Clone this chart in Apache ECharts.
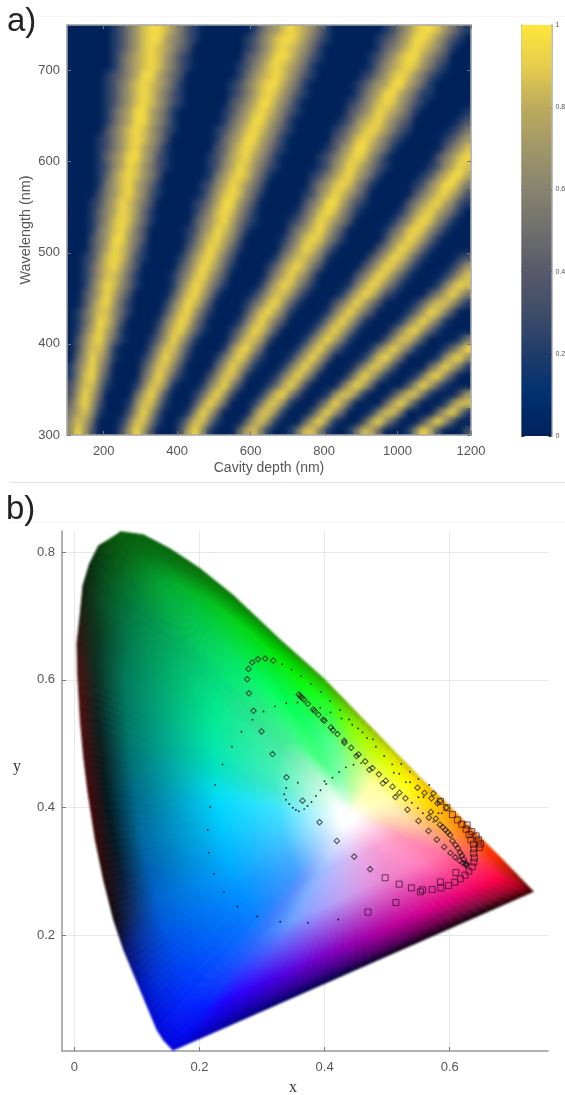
<!DOCTYPE html>
<html><head><meta charset="utf-8">
<style>html,body{margin:0;padding:0;background:#fff}#c{width:565px;height:1095px}</style>
<script src="https://cdn.jsdelivr.net/npm/echarts@6/dist/echarts.min.js"></script>
</head><body><div id="c"></div>
<script>
// ---- panel a) data (each digit is a reflectance level, see digitLevels)
const depthCells=[110,130,150,170,190,210,230,250,270,290,310,330,350,370,390,410,430,450,470,490,510,530,550,570,590,610,630,650,670,690,710,730,750,770,790,810,830,850,870,890,910,930,950,970,990,1010,1030,1050,1070,1090,1110,1130,1150,1170,1190];
const wavelengthCells=[305,315,325,335,345,355,365,375,385,395,405,415,425,435,445,455,465,475,485,495,505,515,525,535,545,555,565,575,585,595,605,615,625,635,645,655,665,675,685,695,705,715,725,735,745];
const digitLevels=[0,.2,.34,.46,.55,.63,.7,.77,.86,.95];
const reflectanceRows=[
"5962000"+"26962000"+"27951000"+"3784100"+"14884100"+"14873000"+"159720002",
"5873000"+"14884100"+"14884100"+"0378510"+"00379510"+"00279520"+"002696200",
"4785100"+"02696200"+"01597300"+"0048851"+"00026963"+"00015884"+"000037951",
"3796200"+"01588410"+"00269730"+"0014885"+"10002597"+"30000379"+"620001588",
"2697300"+"00379620"+"00137962"+"0001489"+"52000158"+"85100025"+"884100026",
"2588410"+"00148851"+"00014795"+"2000137"+"96200003"+"79730000"+"269731000",
"1489520"+"00036973"+"10002588"+"5100014"+"79630000"+"26974100"+"014895200",
"1479630"+"00025885"+"20000369"+"7410001"+"47963000"+"02588520"+"000369741",
"0369741"+"00013797"+"41000147"+"9731000"+"14796300"+"00148963"+"000015895",
"0268851"+"00002588"+"52000015"+"8963000"+"01479631"+"00014797"+"410001369",
"0258963"+"10001369"+"74100002"+"5886200"+"00147974"+"10000258"+"852000014",
"0147974"+"10000258"+"96310001"+"3698520"+"00014797"+"41000025"+"896310000",
"0136985"+"20000147"+"98420000"+"1479742"+"00001479"+"74100001"+"479741000",
"0136885"+"31000025"+"89631000"+"0258974"+"10000147"+"97420000"+"136985200",
"0025896"+"31000014"+"79852000"+"0135896"+"31000024"+"79742000"+"013688631",
"0024797"+"42000002"+"58974100"+"0013688"+"63100001"+"47985210"+"000247974",
"0014798"+"53100001"+"47985310"+"0001479"+"85310000"+"14798531"+"000014798",
"0013688"+"63100001"+"35897420"+"0000257"+"97520000"+"02479853"+"100001368",
"0013689"+"74200000"+"24798631"+"0000136"+"89742000"+"00247986"+"310000136",
"0012589"+"85210000"+"13689742"+"0000014"+"68864100"+"00024798"+"631000012",
"0002479"+"86310000"+"02479863"+"1000002"+"47986310"+"00002479"+"863100000",
"0002469"+"96420000"+"01368975"+"2000001"+"35898531"+"00000257"+"986310000",
"0001468"+"97420000"+"01257986"+"3100000"+"24689742"+"00000135"+"898531000",
"0001358"+"98531000"+"00246897"+"4210000"+"12479864"+"20000013"+"589853100",
"0001357"+"98631000"+"00135898"+"5310000"+"01358985"+"31000001"+"368975310",
"0001257"+"98642000"+"00124799"+"6420000"+"00246997"+"42100000"+"246897521",
"0000246"+"89752100"+"00013689"+"8531000"+"00125798"+"64200000"+"024689752",
"0000146"+"89753100"+"00012579"+"8642000"+"00024689"+"85310000"+"012579974",
"0000136"+"89864200"+"00001468"+"9853100"+"00012468"+"97531000"+"001257997",
"0000125"+"79864210"+"00001257"+"9864210"+"00001257"+"98642100"+"000125798",
"0000135"+"79975210"+"00001247"+"8975310"+"00001246"+"89853100"+"000024689",
"0000124"+"68975310"+"00000236"+"8986421"+"00000125"+"79975310"+"000002468",
"0000124"+"68986420"+"00000135"+"7997531"+"00000023"+"58986421"+"000001246",
"0000024"+"68986421"+"00000124"+"6898642"+"10000012"+"46898642"+"100000124",
"0000013"+"57997531"+"00000013"+"5799753"+"10000001"+"25789753"+"200000012",
"0000013"+"57997531"+"00000012"+"4689864"+"21000000"+"23579875"+"310000001",
"0000012"+"46898642"+"10000002"+"3579975"+"31000000"+"12468986"+"421000000",
"0000012"+"46898642"+"10000001"+"2468986"+"42100000"+"01357997"+"531100000",
"0000012"+"46898753"+"10000001"+"2468997"+"53100000"+"01246799"+"753100000",
"0000012"+"35799753"+"20000000"+"1357898"+"64210000"+"00124689"+"864210000",
"0000001"+"35789864"+"21000000"+"1246898"+"75310000"+"00013578"+"986421000",
"0000001"+"35789864"+"21000000"+"0235799"+"86421000"+"00012468"+"997532000",
"0000001"+"24689875"+"32000000"+"0124689"+"87531000"+"00001346"+"898753100",
"0000001"+"24689975"+"42100000"+"0124689"+"98642100"+"00001235"+"799864210",
"0000001"+"24689986"+"42100000"+"0013568"+"98753100"+"00000124"+"689986421"
];
const depthTicks=[200,400,600,800,1000,1200];
const wavelengthTicks=[300,400,500,600,700];
const colormap=['#00225a','#003070','#1f3c6a','#3f4d69','#58596a','#6f6f6e','#87836e','#a09768','#bcab5c','#e6cd4c','#ffe53a'];

// ---- panel b) data, chromaticity coordinates
const whiteX=0.44, whiteY=0.385;
const gamutX=[.1577,.1427,.132,.1054,.0788,.0628,.0468,.0335,.0213,.0149,.0096,.0053,.0043,.0096,.0139,.0245,.0389,.0575,.0746,.1107,.1534,.2013,.2545,.329,.398,.45,.51,.555,.6006,.64,.68,.7337,.66,.58,.5,.42,.34,.26,.2];
const gamutY=[.0203,.0361,.0526,.115,.1777,.2247,.287,.35,.4277,.48,.537,.61,.657,.704,.748,.782,.81,.821,.832,.827,.805,.774,.732,.663,.603,.5505,.49,.445,.4016,.362,.3234,.2688,.237,.2025,.168,.1335,.0989,.0644,.0385];
const gamutMain=['#2a70ff','#1a74ff','#0a78ff','#0088ff','#0098ff','#00a8ff','#00b8ff','#00c8ff','#00d8ff','#00e0e8','#00e0c0','#00e8a8','#00e89a','#00e890','#00e888','#00e080','#00e078','#00e870','#00e870','#00f068','#00f860','#00ff58','#00ff50','#20ff70','#60ff90','#a0ff80','#ffffa0','#ffffb0','#ffe8b0','#ffc8a0','#ffa0a0','#ff70a0','#ff80c0','#f080c8','#e090e0','#c0a0f0','#a0a0ff','#70a0ff','#4088ff'];
const gamutSemi=['#0018ff','#0024ff','#0030ff','#0048f0','#0058e0','#0060d0','#0060b0','#006aa0','#006a88','#006f78','#00766c','#007a60','#007a58','#007a50','#007a48','#008040','#008c38','#009a30','#00a430','#00b028','#00ba20','#00cc18','#00dc10','#00f400','#20ff20','#90ff00','#e0ff00','#ffff00','#ffd000','#ff9c20','#ff6040','#ff0040','#e80070','#d00090','#b000a0','#8800b8','#6000d8','#3800f0','#2000ff'];
const gamutDark=['#0008f0','#0010f0','#0018f0','#0030d8','#0830a0','#102860','#0a1a30','#051820','#041a20','#0a1a1a','#0a2020','#0c2a20','#0a3020','#083a20','#064a20','#04541c','#045a18','#046414','#046a14','#047014','#047a10','#048a0c','#009a08','#00c000','#20d000','#80e000','#d8e800','#ffe000','#ffb000','#ff7000','#ff3000','#b00020','#801040','#700050','#60006a','#400080','#300098','#1800b8','#0800d8'];
const gamutRim=['#0000d8','#0004d8','#0008d8','#0010c0','#0a1060','#100808','#280a0a','#3a0808','#4a0808','#4a0a0a','#520c0c','#4e0e0e','#3a1010','#1c1c10','#101e10','#082a0c','#083a0a','#065008','#065a08','#066008','#066408','#086c08','#087a06','#108a04','#30a000','#70b000','#b8c000','#e0c000','#f0a000','#f06000','#f03000','#400000','#100008','#100010','#080020','#000040','#000060','#000090','#0000b8'];
const dotPoints=[[.4217,.225],[.3733,.2198],[.3291,.2214],[.2923,.2297],[.2609,.2453],[.2391,.2683],[.2232,.2964],[.2152,.3297],[.2133,.3652],[.2173,.4011],[.2252,.4355],[.2369,.4678],[.2519,.4953],[.2673,.5188],[.2848,.5375],[.3024,.5506],[.3206,.5586],[.3387,.5636],[.3567,.5647],[.393,.5563],[.4094,.5491],[.427,.5397],[.4441,.5297],[.4605,.5178],[.4772,.5069],[.4952,.4808],[.508,.4678],[.5107,.4547],[.5192,.4531],[.5299,.4397],[.5367,.4397],[.5394,.4078],[.549,.3991],[.557,.3913],[.574,.3781],[.582,.3913],[.5873,.3913],[.55,.4163],[.558,.4163],[.3323,.6245],[.3471,.6163],[.3626,.6058],[.3781,.5938],[.3941,.5813],[.4089,.5667],[.4249,.5527],[.4393,.5381],[.4537,.5241],[.468,.5089],[.482,.4953],[.5224,.4683],[.5363,.4563],[.55,.4448],[.5671,.4355],[.3387,.4308],[.3355,.4209],[.3382,.4125],[.3435,.4058],[.3494,.4],[.3542,.3964],[.3589,.3944],[.3674,.3978],[.3727,.4027],[.3791,.4089],[.3861,.4183],[.3935,.4272],[.4026,.437],[.4126,.4469],[.4233,.4558],[.434,.4631],[.4462,.4672],[.4585,.4698],[.3573,.4391],[.3998,.4413]];
const diamondPoints=[[.3179,.6303],[.3051,.6334],[.2934,.6323],[.2843,.6272],[.2784,.6172],[.2764,.6011],[.2791,.5792],[.2864,.5516],[.2992,.5194],[.3168,.4839],[.3391,.4475],[.3647,.4109],[.3919,.3772],[.4196,.348],[.4473,.3234],[.4728,.3038],[.3589,.5772],[.361,.5745],[.3642,.5719],[.3669,.5694],[.3733,.5625],[.3818,.5537],[.3839,.5516],[.3903,.5453],[.3978,.5375],[.3998,.5359],[.4101,.5256],[.4133,.5214],[.4206,.5152],[.4313,.5047],[.4318,.5016],[.4425,.4938],[.451,.4808],[.4542,.4834],[.4649,.4725],[.4717,.4594],[.4765,.462],[.4868,.4522],[.4931,.4381],[.4979,.4422],[.5085,.4328],[.5133,.4167],[.5196,.4234],[.5292,.4147],[.5324,.3969],[.5484,.4313],[.5596,.423],[.5708,.4147],[.574,.4225],[.5804,.4069],[.5847,.4105],[.5947,.4],[.5698,.3933],[.5666,.3844],[.5778,.3828],[.55,.3792],[.566,.3636],[.5794,.35],[.5911,.3386],[.6011,.3292],[.6086,.3225],[.6155,.3172],[.6214,.3131],[.6262,.3109],[.6262,.3105],[.5842,.3734],[.5889,.3694],[.5931,.3652],[.5969,.3616],[.6006,.3573],[.6043,.348],[.6091,.3417],[.613,.3366],[.6166,.3297],[.6193,.325],[.6225,.3194],[.6257,.3131]];
const squarePoints=[[.4968,.2902],[.5192,.2803],[.5388,.2745],[.5564,.2714],[.5719,.2719],[.5858,.2745],[.5979,.2781],[.6081,.2834],[.6171,.2886],[.6246,.2944],[.6305,.3006],[.6358,.3073],[.6385,.3147],[.6395,.3214],[.6379,.3288],[.639,.3355],[.647,.3375],[.649,.3433],[.6379,.3428],[.6337,.3495],[.631,.3578],[.6262,.3663],[.6193,.3741],[.6123,.3808],[.6043,.3891],[.5954,.4],[.5851,.41],[.6458,.3495],[.6422,.3558],[.6353,.3625],[.6278,.373],[.4692,.2366],[.5139,.2516],[.5532,.2683],[.5851,.2839],[.6097,.2984]];
const xTicks=[0,0.2,0.4,0.6];
const yTicks=[0.2,0.4,0.6,0.8];

// ---- assembly
const sans="'Liberation Sans',Arial,sans-serif", serif="'Liberation Serif','Times New Roman',serif";
const heatData=[];
reflectanceRows.forEach((row,r)=>{for(let c=0;c<depthCells.length;c++)heatData.push([c,r,digitLevels[+row[c]]]);});

function hex(c){return [parseInt(c.slice(1,3),16),parseInt(c.slice(3,5),16),parseInt(c.slice(5,7),16)];}
function mixRaw(a,b,t){const A=hex(a),B=hex(b);return A.map((v,i)=>Math.round(v+(B[i]-v)*t));}
function css(c){return 'rgb('+c.join(',')+')';}
function mix(a,b,t){return css(mixRaw(a,b,t));}
const SUB=6;
function renderGamut(params,api){
  const i=api.value(2), j=(i+1)%gamutX.length;
  const A=api.coord([gamutX[i],gamutY[i]]),B=api.coord([gamutX[j],gamutY[j]]),C=api.coord([whiteX,whiteY]);
  const children=[];
  for(let k=0;k<SUB;k++){
    const t0=k/SUB,t1=(k+1)/SUB,tm=(k+.5)/SUB;
    const P=[A[0]+(B[0]-A[0])*t0,A[1]+(B[1]-A[1])*t0],Q=[A[0]+(B[0]-A[0])*t1,A[1]+(B[1]-A[1])*t1],M=[A[0]+(B[0]-A[0])*tm,A[1]+(B[1]-A[1])*tm];
    const main=mixRaw(gamutMain[i],gamutMain[j],tm);
    const pale=css(main.map(v=>Math.round(v+(255-v)*.25)));
    const g=new echarts.graphic.LinearGradient(C[0],C[1],M[0],M[1],[
      {offset:0,color:'#ffffff'},{offset:.04,color:'#ffffff'},
      {offset:.27,color:pale},
      {offset:.5,color:css(main)},
      {offset:.82,color:mix(gamutSemi[i],gamutSemi[j],tm)},
      {offset:.93,color:mix(gamutDark[i],gamutDark[j],tm)},
      {offset:1,color:mix(gamutRim[i],gamutRim[j],tm)}],true);
    children.push({type:'polygon',shape:{points:[C,P,Q]},style:{fill:g,stroke:g,lineWidth:.8}});
  }
  return {type:'group',children};
}
const axisGray='#a8a8a8', labelGray='#555';
const frame={lineStyle:{color:axisGray,width:1.5}};
const tickIn={show:true,inside:true,length:4,lineStyle:{color:'#777',width:1}};
const chart=echarts.init(document.getElementById('c'),null,{renderer:'canvas'});
chart.setOption({
  animation:false,backgroundColor:'#fff',
  title:[
    {text:'a)',left:2,top:0,textStyle:{fontSize:33,fontWeight:'normal',color:'#222',fontFamily:sans}},
    {text:'b)',left:1,top:488,textStyle:{fontSize:33,fontWeight:'normal',color:'#222',fontFamily:sans}}
  ],
  graphic:[
    {type:'line',shape:{x1:10,y1:482.5,x2:565,y2:482.5},style:{stroke:'#e2e2e2',lineWidth:1},silent:true},
    {type:'line',shape:{x1:10,y1:16.5,x2:565,y2:16.5},style:{stroke:'#f8f8f8',lineWidth:1},silent:true},
    {type:'line',shape:{x1:10,y1:522.5,x2:565,y2:522.5},style:{stroke:'#f8f8f8',lineWidth:1},silent:true},
    {type:'text',x:17,y:767,silent:true,style:{text:'y',fill:'#333',font:'16px '+serif,textAlign:'center',textVerticalAlign:'middle'}}
  ],
  grid:[
    {left:67,right:94,top:25,height:410,outerBoundsMode:'none'},
    {left:521.5,width:30,top:25,height:411,outerBoundsMode:'none'},
    {left:62,right:17,top:531,height:520,outerBoundsMode:'none'}
  ],
  xAxis:[
    {type:'category',gridIndex:0,data:depthCells,show:false},
    {type:'value',gridIndex:0,min:100,max:1200,position:'bottom',zlevel:4,
      name:'Cavity depth (nm)',nameLocation:'middle',nameGap:26,nameMoveOverlap:false,nameTextStyle:{fontSize:14,color:labelGray,fontFamily:sans},
      axisLine:{show:true,...frame},axisTick:{...tickIn,customValues:depthTicks},splitLine:{show:false},
      axisLabel:{customValues:depthTicks,color:labelGray,fontSize:13,fontFamily:sans,margin:10,formatter:v=>String(v)}},
    {type:'value',gridIndex:0,min:100,max:1200,position:'top',zlevel:4,
      axisLine:{show:true,...frame},axisTick:{...tickIn,customValues:depthTicks},splitLine:{show:false},axisLabel:{show:false}},
    {type:'category',gridIndex:1,data:['colorbar'],show:false},
    {type:'value',gridIndex:2,min:-0.0196,max:0.757,position:'bottom',
      name:'x',nameLocation:'middle',nameGap:29,nameMoveOverlap:false,nameTextStyle:{fontSize:16,color:'#333',fontFamily:serif,padding:[0,24,0,0]},
      axisLine:{show:true,onZero:false,lineStyle:{color:'#999',width:1.5}},axisTick:{...tickIn,customValues:xTicks},
      splitLine:{show:true,lineStyle:{color:'#e8e8e8',width:1}},
      axisLabel:{customValues:xTicks,color:labelGray,fontSize:13,fontFamily:sans,margin:10,formatter:v=>String(v)}}
  ],
  yAxis:[
    {type:'category',gridIndex:0,data:wavelengthCells,show:false},
    {type:'value',gridIndex:0,min:300,max:750,position:'left',zlevel:4,
      name:'Wavelength (nm)',nameLocation:'middle',nameGap:34,nameMoveOverlap:false,nameTextStyle:{fontSize:14.4,color:labelGray,fontFamily:sans},
      axisLine:{show:true,...frame},axisTick:{...tickIn,customValues:wavelengthTicks},splitLine:{show:false},
      axisLabel:{customValues:wavelengthTicks,color:labelGray,fontSize:13,fontFamily:sans,margin:7}},
    {type:'value',gridIndex:0,min:300,max:750,position:'right',zlevel:4,
      axisLine:{show:true,...frame},axisTick:{...tickIn,customValues:wavelengthTicks},splitLine:{show:false},axisLabel:{show:false}},
    {type:'value',gridIndex:1,min:0,max:1,interval:.2,position:'right',
      axisLine:{show:true,...frame},axisTick:{...tickIn,length:3,lineStyle:{color:'#333',width:1}},splitLine:{show:false},
      axisLabel:{color:labelGray,fontSize:7,fontFamily:sans,margin:4,formatter:v=>String(+v.toFixed(1))}},
    {type:'value',gridIndex:1,min:0,max:1,interval:.2,position:'left',
      axisLine:{show:true,...frame},axisTick:{...tickIn,length:3,lineStyle:{color:'#333',width:1}},splitLine:{show:false},axisLabel:{show:false}},
    {type:'value',gridIndex:2,min:0.0192,max:0.833,position:'left',
      axisLine:{show:true,onZero:false,lineStyle:{color:'#999',width:1.5}},axisTick:{...tickIn,customValues:yTicks},
      splitLine:{show:true,lineStyle:{color:'#e8e8e8',width:1}},
      axisLabel:{customValues:yTicks,color:labelGray,fontSize:13,fontFamily:sans,margin:7,formatter:v=>String(v)}}
  ],
  visualMap:[{show:false,seriesIndex:[0,1],dimension:2,min:0,max:1,inRange:{color:colormap}}],
  series:[
    {type:'heatmap',name:'Reflectance base',xAxisIndex:0,yAxisIndex:0,data:heatData,silent:true,progressive:0},
    {type:'heatmap',name:'Reflectance',xAxisIndex:0,yAxisIndex:0,data:heatData,silent:true,progressive:0,zlevel:1},
    {type:'bar',name:'Colorbar',xAxisIndex:3,yAxisIndex:3,data:[1],barWidth:'100%',silent:true,
      itemStyle:{color:new echarts.graphic.LinearGradient(0,0,0,1,colormap.slice().reverse().map((c,i)=>({offset:i/10,color:c})))}},
    {type:'custom',name:'Gamut',xAxisIndex:4,yAxisIndex:5,silent:true,clip:false,renderItem:renderGamut,zlevel:2,
      data:gamutX.map((x,i)=>[x,gamutY[i],i]),encode:{x:0,y:1}},
    {type:'scatter',name:'Dots',xAxisIndex:4,yAxisIndex:5,zlevel:3,data:dotPoints,symbol:'circle',symbolSize:1.9,silent:true,itemStyle:{color:'#111',opacity:.85}},
    {type:'scatter',name:'Diamonds',xAxisIndex:4,yAxisIndex:5,zlevel:3,data:diamondPoints,symbol:'diamond',symbolSize:5.5,silent:true,itemStyle:{color:'rgba(0,0,0,0)',borderColor:'rgba(20,20,20,.85)',borderWidth:1.1}},
    {type:'scatter',name:'Squares',xAxisIndex:4,yAxisIndex:5,zlevel:3,data:squarePoints,symbol:'rect',symbolSize:6,silent:true,itemStyle:{color:'rgba(0,0,0,0)',borderColor:'rgba(40,10,40,.85)',borderWidth:1}}
  ]
});
// The reference is a resampled image: soften the cell and marker layers the same way.
function soften(level,filter,clip){
  const cv=document.querySelector('#c canvas[data-zr-dom-id="zr_'+level+'"]');
  if(!cv)return;
  cv.style.filter=filter;
  if(clip)cv.style.clipPath=clip;
}
soften(1,'blur(3px)','inset(26px 95px 660px 68px)');
soften(2,'blur(0.8px)');
soften(3,'blur(0.35px)');
</script></body></html>
